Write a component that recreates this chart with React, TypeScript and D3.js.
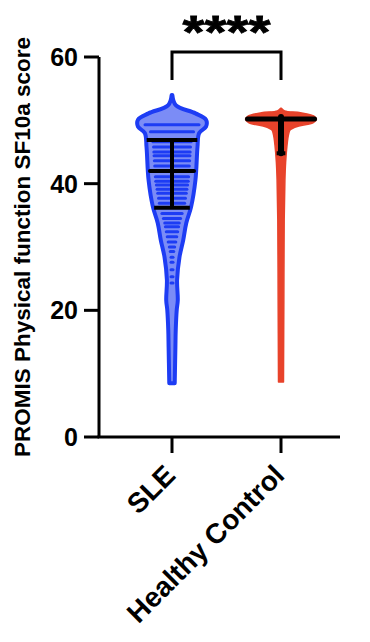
import React from "react";
import * as d3 from "d3";

const categories = ["SLE", "Healthy Control"];
const yTicks = [0, 20, 40, 60];

// violin profiles: score value and relative density (1 = widest)
const sleValues = [8.5, 14.2, 16.9, 20.1, 21.6, 24.8, 28.4, 31.1, 33.8, 36.3, 40.6, 45.8, 48.0, 49.0, 50.1, 51.1, 52.4, 54.0];
const sleDensity = [0.08, 0.1, 0.11, 0.14, 0.17, 0.15, 0.22, 0.33, 0.42, 0.56, 0.69, 0.75, 0.8, 1.0, 1.0, 0.69, 0.11, 0.01];
const hcValues = [8.7, 21.6, 34.3, 40.6, 43.4, 46.1, 47.7, 48.5, 49.1, 49.6, 50.2, 50.7, 51.2, 51.5, 51.9];
const hcDensity = [0.07, 0.08, 0.09, 0.11, 0.13, 0.17, 0.21, 0.26, 0.5, 0.9, 1.0, 0.92, 0.55, 0.1, 0.01];

// discrete score levels visible as stripes inside the SLE violin
const sleStripes = [49.3, 48.2, 46.6, 45.8, 45.0, 44.4, 43.6, 42.8, 41.1, 40.4, 39.8, 39.1, 38.5, 37.7, 36.9, 35.3, 34.5, 33.8, 33.2, 32.4, 31.6, 30.8, 30.0, 29.3, 28.4, 27.6, 26.4, 25.3, 24.3];

const medians = [42.0, 50.2];
const q1 = [36.2, 44.8];
const q3 = [46.9, 50.2];
const significance = "****";

const BLUE = "#1d3cf4";
const BLUE_FILL = "#7b8cf6";
const RED = "#e8432b";
const FONT = "'Liberation Sans', Arial, Helvetica, sans-serif";

export default function App() {
  const W = 370, H = 642;
  const y = d3.scaleLinear().domain([0, 60]).range([437, 57]);
  const x = d3.scalePoint<string>().domain(categories).range([172, 281]);
  const wScale = d3.scaleLinear().domain([0, 1]).range([0, 34]);
  const wScaleHC = d3.scaleLinear().domain([0, 1]).range([0, 35.5]);

  const sleData = sleValues.map((v, i) => ({ v, d: sleDensity[i] }));
  const hcData = hcValues.map((v, i) => ({ v, d: hcDensity[i] }));
  const sleInterp = d3.scaleLinear().domain(sleValues).range(sleDensity).clamp(true);
  const hcInterp = d3.scaleLinear().domain(hcValues).range(hcDensity).clamp(true);

  const cx0 = x(categories[0])!;
  const cx1 = x(categories[1])!;

  const areaSLE = d3.area<{ v: number; d: number }>()
    .y((d) => y(d.v))
    .x0((d) => cx0 - wScale(d.d))
    .x1((d) => cx0 + wScale(d.d))
    .curve(d3.curveCatmullRom);
  const areaHC = d3.area<{ v: number; d: number }>()
    .y((d) => y(d.v))
    .x0((d) => cx1 - wScaleHC(d.d))
    .x1((d) => cx1 + wScaleHC(d.d))
    .curve(d3.curveCatmullRom);

  const interps = [sleInterp, hcInterp];
  const scales = [wScale, wScaleHC];

  return (
    <svg width={W} height={H} style={{ position: "absolute", left: 0, top: 0, background: "#fff" }}>
      <rect x={0} y={0} width={W} height={H} fill="#fff" />
      {/* Y axis */}
      <line x1={99} x2={99} y1={y(60)} y2={y(0)} stroke="#000" strokeWidth={3} />
      {yTicks.map((t) => (
        <g key={t}>
          <line x1={84} x2={99} y1={y(t)} y2={y(t)} stroke="#000" strokeWidth={3} />
          <text x={78} y={y(t)} dy="0.36em" textAnchor="end" fontFamily={FONT} fontWeight="bold" fontSize={25}>
            {t}
          </text>
        </g>
      ))}
      <text
        transform={`translate(30, 247) rotate(-90)`}
        textAnchor="middle"
        fontFamily={FONT}
        fontWeight="bold"
        fontSize={22.5}
      >
        PROMIS Physical function SF10a score
      </text>
      {/* X axis */}
      <line x1={97.5} x2={340} y1={y(0)} y2={y(0)} stroke="#000" strokeWidth={3} />
      {categories.map((c) => (
        <g key={c}>
          <line x1={x(c)!} x2={x(c)!} y1={y(0)} y2={453} stroke="#000" strokeWidth={3} />
          <text
            transform={`translate(${x(c)! + 5}, 477) rotate(-45)`}
            textAnchor="end"
            fontFamily={FONT}
            fontWeight="bold"
            fontSize={28}
          >
            {c}
          </text>
        </g>
      ))}
      {/* SLE violin */}
      <path d={areaSLE(sleData)!} fill={BLUE_FILL} stroke={BLUE} strokeWidth={4} strokeLinejoin="round" />
      {sleStripes.map((v, i) => {
        const hw = Math.max(1, wScale(sleInterp(v)) - 7);
        return (
          <line key={i} x1={cx0 - hw} x2={cx0 + hw} y1={y(v)} y2={y(v)} stroke={BLUE} strokeWidth={3} strokeLinecap="round" />
        );
      })}
      {/* HC violin */}
      <path d={areaHC(hcData)!} fill={RED} stroke={RED} strokeWidth={1.5} strokeLinejoin="round" />
      {/* medians and quartiles */}
      {categories.map((c, i) => {
        const cx = x(c)!;
        const hwOf = (v: number) => Math.max(3, scales[i](interps[i](v)));
        return (
          <g key={c} stroke="#000">
            <line x1={cx} x2={cx} y1={y(q3[i]) - (i === 1 ? 2 : 0)} y2={y(q1[i])} strokeWidth={i === 1 ? 6 : 4} strokeLinecap={i === 1 ? "round" : "butt"} />
            <line x1={cx - hwOf(q3[i]) + 1} x2={cx + hwOf(q3[i]) - 1} y1={y(q3[i])} y2={y(q3[i])} strokeWidth={4} />
            <line x1={cx - hwOf(medians[i]) + 2} x2={cx + hwOf(medians[i]) - 2} y1={y(medians[i])} y2={y(medians[i])} strokeWidth={i === 1 ? 5 : 4} strokeLinecap="round" />
            <line x1={cx - hwOf(q1[i]) + 1} x2={cx + hwOf(q1[i]) - 1} y1={y(q1[i])} y2={y(q1[i])} strokeWidth={4} />
          </g>
        );
      })}
      {/* significance bracket */}
      <path d={`M${cx0},80 V52 H${cx1} V80`} fill="none" stroke="#000" strokeWidth={3} />
      <text
        x={(cx0 + cx1) / 2}
        y={48}
        textAnchor="middle"
        fontFamily={FONT}
        fontWeight="bold"
        fontSize={46}
        textLength={88}
        lengthAdjust="spacingAndGlyphs"
        stroke="#000"
        strokeWidth={0.8}
      >
        {significance}
      </text>
    </svg>
  );
}
